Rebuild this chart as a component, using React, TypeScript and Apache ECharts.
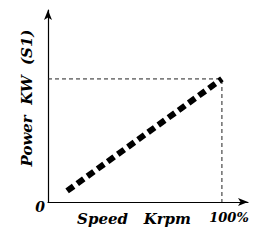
import React, { useEffect, useRef } from "react";
import * as echarts from "echarts";

const speedPct = [11, 100];
const powerPct = [9, 100];
const ratedSpeed = 100;
const ratedPower = 100;
const xLabel = "Speed   Krpm";
const yLabel = "Power  KW  (S1)";
const originLabel = "0";
const ratedLabel = "100%";

export default function App() {
  const ref = useRef<HTMLDivElement>(null);
  useEffect(() => {
    const chart = echarts.init(ref.current!, null, { renderer: "svg" });
    const serif = "DejaVu Serif";
    const txt = (text: string, x: number, y: number, size: number, extra: any = {}) => ({
      type: "text",
      x,
      y,
      ...extra,
      style: {
        text,
        fontFamily: serif,
        fontStyle: "italic",
        fontWeight: "bold",
        fontSize: size,
        fill: "#000",
        align: "center",
        verticalAlign: "middle",
      },
    });
    chart.setOption({
      animation: false,
      backgroundColor: "#fff",
      grid: { left: 48, top: 10, right: 19, bottom: 38 },
      xAxis: {
        type: "value",
        min: 0,
        max: 115,
        splitLine: { show: false },
        axisTick: { show: false },
        axisLabel: { show: false },
        axisLine: {
          lineStyle: { color: "#000", width: 1.2 },
          symbol: ["none", "arrow"],
          symbolSize: [6, 10],
        },
      },
      yAxis: {
        type: "value",
        min: 0,
        max: 156,
        splitLine: { show: false },
        axisTick: { show: false },
        axisLabel: { show: false },
        axisLine: {
          show: true,
          lineStyle: { color: "#000", width: 1.2 },
          symbol: ["none", "arrow"],
          symbolSize: [6, 10],
        },
      },
      series: [
        {
          type: "line",
          data: [
            [0, ratedPower],
            [ratedSpeed, ratedPower],
            [ratedSpeed, 0],
          ],
          symbol: "none",
          lineStyle: { color: "#222", width: 1, type: [4, 3] },
          silent: true,
        },
        {
          type: "line",
          data: speedPct.map((s, i) => [s, powerPct[i]]),
          symbol: "none",
          lineStyle: { color: "#000", width: 6, type: [8, 4.5], cap: "butt" },
        },
      ],
      graphic: [
        txt(yLabel, 27, 98, 15, { rotation: Math.PI / 2 }),
        txt(originLabel, 40, 207, 14),
        txt(ratedLabel, 229, 217, 13),
        txt(xLabel, 134, 219, 15),
      ],
    });
    return () => chart.dispose();
  }, []);
  return (
    <div style={{ position: "absolute", left: 0, top: 0 }}>
      <div ref={ref} style={{ width: 267, height: 240 }} />
    </div>
  );
}
